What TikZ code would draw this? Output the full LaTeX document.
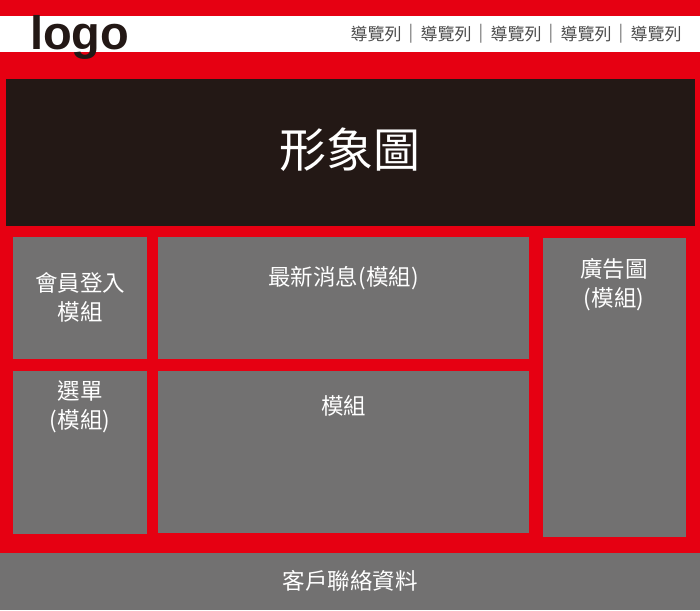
\documentclass[tikz,border=0pt]{standalone}
\usepackage{fontspec}
\setmainfont{Liberation Sans}
\newfontfamily\cjk{Noto Sans CJK TC}
\definecolor{pagered}{HTML}{E60012}
\definecolor{bannerdark}{HTML}{231815}
\definecolor{blockgray}{HTML}{727171}
\definecolor{navgray}{HTML}{4D4D4D}

\begin{document}
\begin{tikzpicture}[x=1pt, y=-1pt,
    block/.style={fill=blockgray, inner sep=0pt, outer sep=0pt},
    blocktext/.style={text=white, align=center, inner sep=0pt, font=\fontsize{22.5}{29}\selectfont\cjk},
    nav/.style={text=navgray, inner sep=0pt, font=\fontsize{17}{17}\selectfont\cjk}]
      \useasboundingbox (0,0) rectangle (700,610);
      %background
      \fill[pagered] (0,0) rectangle (700,610);
      \node[fill=white, inner sep=0pt, minimum width=700pt, minimum height=36pt] (header) at (350,34) {};
      %header
      \node[anchor=base west, inner sep=0pt, text=bannerdark, font=\fontsize{47}{47}\selectfont\bfseries] (logo) at (30,49) {logo};
      \foreach \x in {376,446,516,586,656}
        \node[nav] (nav\x) at (\x,34) {導覽列};
      \foreach \x in {411,481,551,621}
        \node[nav, text=navgray!80] (bar\x) at (\x,34) {|};
      %blocks
      \node[block, fill=bannerdark, minimum width=689pt, minimum height=147pt] (banner) at (350.5,152.5) {};
      \node[block, minimum width=134pt, minimum height=122pt] (login) at (80,298) {};
      \node[block, minimum width=371pt, minimum height=122pt] (news) at (343.5,298) {};
      \node[block, minimum width=134pt, minimum height=163pt] (menu) at (80,452.5) {};
      \node[block, minimum width=371pt, minimum height=162pt] (module) at (343.5,452) {};
      \node[block, minimum width=143pt, minimum height=299pt] (ad) at (614.5,387.5) {};
      \node[block, minimum width=700pt, minimum height=57pt] (footer) at (350,581.5) {};
      %texts
      \node[blocktext, font=\fontsize{47}{47}\selectfont\cjk] (bannertext) at (350,150) {形象圖};
      \node[blocktext] (logintext) at (80,297) {會員登入\\模組};
      \node[blocktext] (newstext) at (343.5,278) {最新消息(模組)};
      \node[blocktext] (menutext) at (80,407) {選單\\(模組)};
      \node[blocktext] (moduletext) at (343.5,406) {模組};
      \node[blocktext] (adtext) at (614,285) {廣告圖\\(模組)};
      \node[blocktext] (footertext) at (350,581) {客戶聯絡資料};
    \end{tikzpicture}
\end{document}
